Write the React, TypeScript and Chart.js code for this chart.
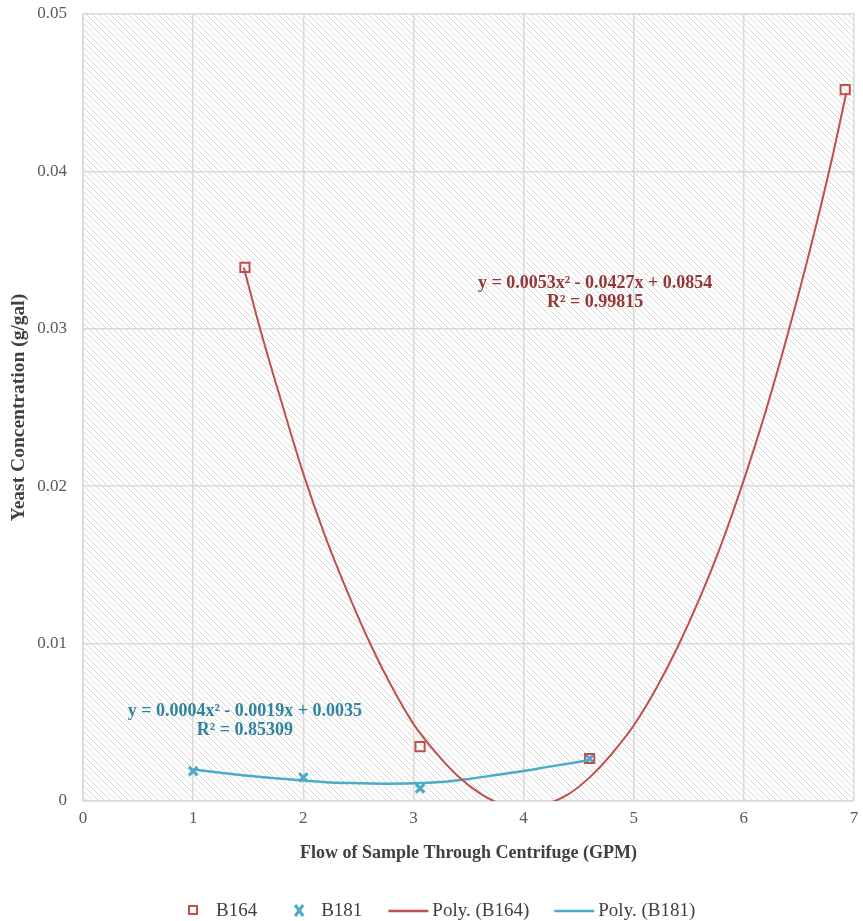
import React, { useEffect, useRef } from 'react';
import { Chart, registerables } from 'chart.js';

Chart.register(...registerables);

// Measured points
const B164_X = [1.47, 3.06, 4.6, 6.92];
const B164_Y = [0.0339, 0.00345, 0.0027, 0.0452];
const B181_X = [1.0, 2.0, 3.06, 4.6];
const B181_Y = [0.0019, 0.0015, 0.0008, 0.0027];

// Trend lines
const POLY_B164_X = [1.46, 1.6, 1.8, 2.0, 2.2, 2.4, 2.6, 2.8, 3.0, 3.2, 3.4, 3.6, 3.8, 4.0, 4.2, 4.4, 4.6, 4.8, 5.0, 5.2, 5.4, 5.6, 5.8, 6.0, 6.2, 6.4, 6.6, 6.8, 6.93];
const POLY_B164_Y = [0.0339, 0.0302, 0.0254, 0.0208, 0.0168, 0.0133, 0.0101, 0.0073, 0.0049, 0.0031, 0.0016, 0.0005, -0.0002, -0.0004, -0.0002, 0.0004, 0.0015, 0.003, 0.0048, 0.0071, 0.0098, 0.0129, 0.0164, 0.0204, 0.0248, 0.0297, 0.035, 0.0408, 0.045];
const POLY_B181_X = [1.0, 1.25, 1.5, 1.75, 2.0, 2.25, 2.5, 2.75, 3.0, 3.25, 3.5, 3.75, 4.0, 4.25, 4.6];
const POLY_B181_Y = [0.002, 0.0018, 0.0016, 0.00145, 0.0013, 0.00118, 0.00113, 0.0011, 0.00112, 0.0012, 0.0014, 0.00165, 0.0019, 0.0022, 0.0026];

const SERIES_LABELS = ['B164', 'B181', 'Poly. (B164)', 'Poly. (B181)'];
const X_TICKS = [0, 1, 2, 3, 4, 5, 6, 7];
const Y_TICKS = [0, 0.01, 0.02, 0.03, 0.04, 0.05];
const X_TITLE = 'Flow of Sample Through Centrifuge (GPM)';
const Y_TITLE = 'Yeast Concentration (g/gal)';
const RED_EQ = ['y = 0.0053x² - 0.0427x + 0.0854', 'R² = 0.99815'];
const BLUE_EQ = ['y = 0.0004x² - 0.0019x + 0.0035', 'R² = 0.85309'];
// label anchor (data coordinates)
const RED_EQ_POS = { x: 4.65, y: [0.0329, 0.0317] };
const BLUE_EQ_POS = { x: 1.47, y: [0.0057, 0.0045] };

const RED = '#c0504d';
const BLUE = '#4bacc6';
const RED_TEXT = '#953735';
const BLUE_TEXT = '#31849b';
const FONT = "'Liberation Serif', 'Times New Roman', serif";

const pts = (xs: number[], ys: number[]) => xs.map((x, i) => ({ x, y: ys[i] }));

export default function App() {
  const ref = useRef<HTMLCanvasElement>(null);

  useEffect(() => {
    document.body.style.margin = '0';
    const canvas = ref.current!;
    const tile = document.createElement('canvas');
    const P = 6;
    tile.width = P;
    tile.height = P;
    const tctx = tile.getContext('2d')!;
    tctx.fillStyle = '#ffffff';
    tctx.fillRect(0, 0, P, P);
    tctx.strokeStyle = '#d6d6d6';
    tctx.lineWidth = 1;
    tctx.beginPath();
    tctx.moveTo(-1, -1); tctx.lineTo(P + 1, P + 1);
    tctx.moveTo(-1, P - 1); tctx.lineTo(1, P + 1);
    tctx.moveTo(P - 1, -1); tctx.lineTo(P + 1, 1);
    tctx.stroke();
    const pattern = canvas.getContext('2d')!.createPattern(tile, 'repeat');

    const bgPlugin = {
      id: 'bg',
      beforeDraw(chart: any) {
        const { ctx, chartArea } = chart;
        ctx.save();
        ctx.fillStyle = '#ffffff';
        ctx.fillRect(0, 0, chart.width, chart.height);
        ctx.fillStyle = pattern as any;
        ctx.fillRect(chartArea.left, chartArea.top, chartArea.right - chartArea.left, chartArea.bottom - chartArea.top);
        ctx.restore();
      },
    };

    const labelPlugin = {
      id: 'eqLabels',
      afterDatasetsDraw(chart: any) {
        const { ctx, scales } = chart;
        ctx.save();
        ctx.font = `bold 18px ${FONT}`;
        ctx.textAlign = 'center';
        ctx.textBaseline = 'middle';
        ctx.fillStyle = RED_TEXT;
        RED_EQ.forEach((t, i) => ctx.fillText(t, scales.x.getPixelForValue(RED_EQ_POS.x), scales.y.getPixelForValue(RED_EQ_POS.y[i])));
        ctx.fillStyle = BLUE_TEXT;
        BLUE_EQ.forEach((t, i) => ctx.fillText(t, scales.x.getPixelForValue(BLUE_EQ_POS.x), scales.y.getPixelForValue(BLUE_EQ_POS.y[i])));
        ctx.restore();
      },
    };

    const legendPlugin = {
      id: 'customLegend',
      afterDraw(chart: any) {
        const { ctx } = chart;
        const labels = chart.data.datasets.map((d: any) => d.label);
        const y = 911;
        ctx.save();
        ctx.font = `19px ${FONT}`;
        ctx.textBaseline = 'middle';
        ctx.textAlign = 'left';
        ctx.fillStyle = '#404040';
        let x = 193;
        // square marker
        ctx.strokeStyle = RED;
        ctx.lineWidth = 2;
        ctx.strokeRect(x - 4, y - 5, 8, 8);
        x += 23;
        ctx.fillText(labels[0], x, y);
        x += ctx.measureText(labels[0]).width + 42;
        // X marker
        ctx.strokeStyle = BLUE;
        ctx.lineWidth = 3;
        ctx.beginPath();
        ctx.moveTo(x - 4, y - 6); ctx.lineTo(x + 4, y + 5);
        ctx.moveTo(x + 4, y - 6); ctx.lineTo(x - 4, y + 5);
        ctx.stroke();
        x += 22;
        ctx.fillText(labels[1], x, y);
        x += ctx.measureText(labels[1]).width + 26;
        // red line
        ctx.strokeStyle = RED;
        ctx.lineWidth = 2.5;
        ctx.beginPath(); ctx.moveTo(x, y); ctx.lineTo(x + 40, y); ctx.stroke();
        x += 44;
        ctx.fillText(labels[2], x, y);
        x += ctx.measureText(labels[2]).width + 25;
        ctx.strokeStyle = BLUE;
        ctx.beginPath(); ctx.moveTo(x, y); ctx.lineTo(x + 40, y); ctx.stroke();
        x += 44;
        ctx.fillText(labels[3], x, y);
        ctx.restore();
      },
    };

    const chart = new Chart(canvas, {
      type: 'scatter',
      data: {
        datasets: [
          {
            label: SERIES_LABELS[0],
            data: pts(B164_X, B164_Y),
            pointStyle: 'rect',
            pointRadius: 6.5,
            pointBorderWidth: 2,
            borderColor: RED,
            backgroundColor: 'rgba(255,255,255,0)',
            showLine: false,
            order: 2,
          },
          {
            label: SERIES_LABELS[1],
            data: pts(B181_X, B181_Y),
            pointStyle: 'crossRot',
            pointRadius: 6,
            pointBorderWidth: 3,
            borderColor: BLUE,
            backgroundColor: BLUE,
            showLine: false,
            order: 2,
          },
          {
            label: SERIES_LABELS[2],
            data: pts(POLY_B164_X, POLY_B164_Y),
            showLine: true,
            pointRadius: 0,
            borderColor: RED,
            borderWidth: 2,
            cubicInterpolationMode: 'monotone',
            order: 1,
          },
          {
            label: SERIES_LABELS[3],
            data: pts(POLY_B181_X, POLY_B181_Y),
            showLine: true,
            pointRadius: 0,
            borderColor: BLUE,
            borderWidth: 2.5,
            cubicInterpolationMode: 'monotone',
            order: 1,
          },
        ] as any,
      },
      options: {
        animation: false,
        responsive: false,
        events: [],
        layout: { padding: { left: 0, right: 5, top: 14, bottom: 51 } },
        plugins: { legend: { display: false }, tooltip: { enabled: false } },
        scales: {
          x: {
            type: 'linear',
            min: 0,
            max: 7,
            afterFit: (s: any) => { s.height = 69; s.paddingLeft = 0; s.paddingRight = 0; },
            afterBuildTicks: (s: any) => { s.ticks = X_TICKS.map((v) => ({ value: v })); },
            ticks: {
              padding: 7,
              color: '#595959',
              font: { family: FONT, size: 17 },
              callback: (v: any) => String(v),
            },
            grid: { color: '#d9d9d9', lineWidth: 1.5, drawTicks: false },
            border: { color: '#d9d9d9', width: 1.5 },
            title: {
              display: true,
              text: X_TITLE,
              color: '#404040',
              font: { family: FONT, size: 18, weight: 'bold' },
              padding: { top: 0, bottom: 6 },
            },
          },
          y: {
            type: 'linear',
            min: 0,
            max: 0.05,
            afterFit: (s: any) => { s.width = 83; s.paddingTop = 0; s.paddingBottom = 0; },
            afterBuildTicks: (s: any) => { s.ticks = Y_TICKS.map((v) => ({ value: v })); },
            ticks: {
              padding: 16,
              color: '#595959',
              font: { family: FONT, size: 17 },
              callback: (v: any) => (v === 0 ? '0' : Number(v).toFixed(2)),
            },
            grid: { color: '#d9d9d9', lineWidth: 1.5, drawTicks: false },
            border: { color: '#d9d9d9', width: 1.5 },
            title: {
              display: true,
              text: Y_TITLE,
              color: '#404040',
              font: { family: FONT, size: 19.5, weight: 'bold' },
              padding: { top: 7, bottom: 0 },
            },
          },
        },
      } as any,
      plugins: [bgPlugin, labelPlugin, legendPlugin],
    });
    return () => chart.destroy();
  }, []);

  return (
    <div style={{ width: 863, height: 921 }}>
      <canvas ref={ref} width={863} height={921} style={{ display: 'block' }} />
    </div>
  );
}
